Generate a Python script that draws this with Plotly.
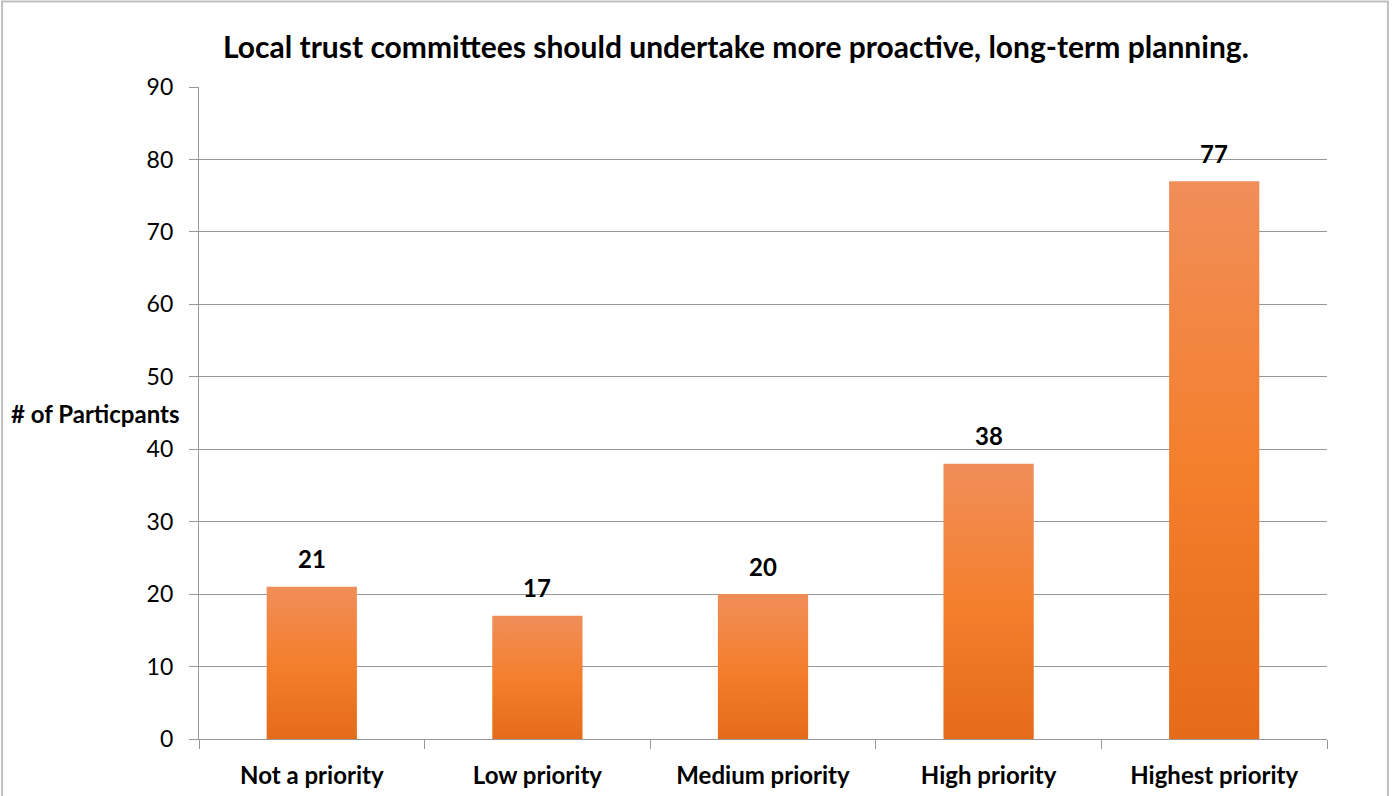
import plotly.graph_objects as go

categories = ["Not a priority", "Low priority", "Medium priority", "High priority", "Highest priority"]
values = [21, 17, 20, 38, 77]
y_ticks = [0, 10, 20, 30, 40, 50, 60, 70, 80, 90]
title_text = "Local trust committees should undertake more proactive, long-term planning."
y_title = "# of Particpants"

BAR_HALF = 0.2
GRID = "#989898"
FONT = "Lato"

fig = go.Figure()
for i, v in enumerate(values):
    fig.add_trace(go.Scatter(
        x=[i - BAR_HALF, i + BAR_HALF, i + BAR_HALF, i - BAR_HALF, i - BAR_HALF],
        y=[0, 0, v, v, 0],
        mode="lines", fill="toself", line=dict(width=0),
        fillgradient=dict(type="vertical", start=0, stop=v,
                          colorscale=[[0, "#E46B1A"], [0.5, "#F47F2D"], [1, "#F08E59"]]),
        hoverinfo="skip", showlegend=False,
    ))
    fig.add_annotation(x=i, y=v, text=f"<b>{v}</b>", showarrow=False,
                       yanchor="middle", yshift=28,
                       font=dict(family=FONT, size=24, color="black"))

fig.add_annotation(xref="paper", yref="paper", x=-0.015, y=0.499, xanchor="right", yanchor="middle",
                   text=f"<b>{y_title}</b>", showarrow=False,
                   font=dict(family=FONT, size=24, color="black"))

fig.add_shape(type="rect", xref="paper", yref="paper", x0=-0.1746, x1=1.054, y0=-0.1, y1=1.131,
              line=dict(color="#BFBFBF", width=2), fillcolor="rgba(0,0,0,0)", layer="below")

fig.update_layout(
    width=1393, height=796,
    margin=dict(l=199, r=66, t=87, b=57, autoexpand=False),
    paper_bgcolor="white", plot_bgcolor="white",
    title=dict(text=f"<b>{title_text}</b>", x=0.476, xref="paper", xanchor="center",
               y=1 - 47 / 796, yref="container", yanchor="middle",
               font=dict(family=FONT, size=30, color="black")),
    xaxis=dict(range=[-0.5, 4.5], tickvals=list(range(len(categories))), ticktext=[f"<b>{c}</b>" for c in categories],
               ticks="", showgrid=False, zeroline=False, automargin=False,
               showline=True, linecolor=GRID, linewidth=1.3,
               tickfont=dict(family=FONT, size=24, color="black"),
               ticklabelstandoff=15,
               minor=dict(tickvals=[k - 0.5 for k in range(len(categories) + 1)], ticks="outside",
                          ticklen=9, tickcolor=GRID, tickwidth=1.3, showgrid=False),
               fixedrange=True),
    yaxis=dict(range=[0, 90], tickvals=y_ticks, showgrid=True, gridcolor=GRID, gridwidth=1.3,
               zeroline=False, showline=True, linecolor=GRID, linewidth=1.3, automargin=False,
               ticks="outside", ticklen=9, tickcolor=GRID, tickwidth=1.3,
               tickfont=dict(family=FONT, size=23, color="black"),
               ticklabelstandoff=11, fixedrange=True),
)

fig.write_html("out.html", config={"displayModeBar": False},
               post_script="document.body.style.margin='0';document.body.style.overflow='hidden';")
